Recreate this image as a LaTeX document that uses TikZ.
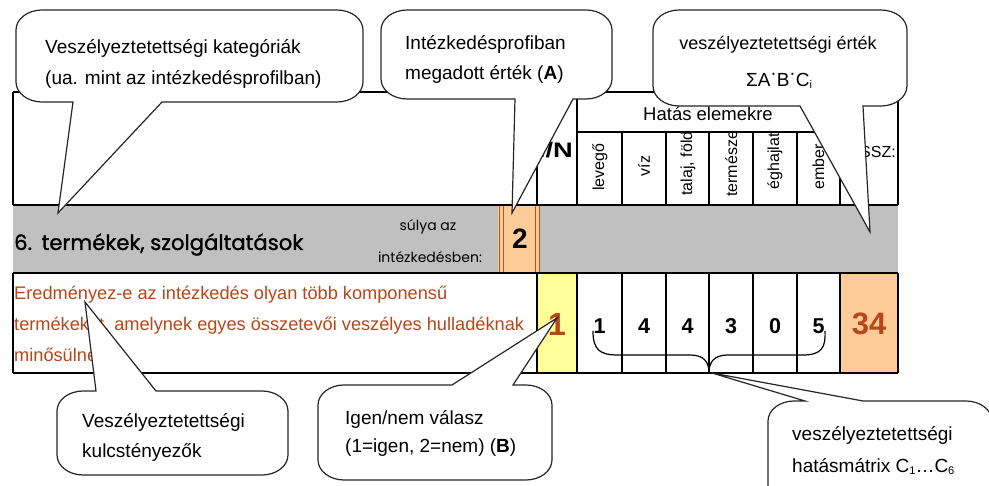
\documentclass[tikz,border=0pt]{standalone}
\usepackage{fontspec}
\setmainfont{Liberation Sans}
\newfontfamily\gothic{Poppins}[FakeBold=1.2]
\newfontfamily\gothiclight{Poppins}
\definecolor{grayrow}{RGB}{192,192,192}
\definecolor{orangecell}{RGB}{255,204,153}
\definecolor{yellowcell}{RGB}{255,255,153}
\definecolor{brownline}{RGB}{190,80,30}
\definecolor{redtext}{RGB}{185,70,25}
\newcommand{\fs}[1]{\fontsize{#1}{#1}\selectfont}
\newcommand{\crx}{26}
\newcommand{\cry}{20}
% tail at bottom: x1,y1,x2,y2,ax,bx,tipx,tipy
\newcommand{\calloutdown}[8]{%
  \draw[callout] (#7,#8) -- (#6,#4) -- (#3-\crx,#4)
    .. controls (#3-0.45*\crx,#4) and (#3,#4-0.45*\cry) .. (#3,#4-\cry)
    -- (#3,#2+\cry)
    .. controls (#3,#2+0.45*\cry) and (#3-0.45*\crx,#2) .. (#3-\crx,#2)
    -- (#1+\crx,#2)
    .. controls (#1+0.45*\crx,#2) and (#1,#2+0.45*\cry) .. (#1,#2+\cry)
    -- (#1,#4-\cry)
    .. controls (#1,#4-0.45*\cry) and (#1+0.45*\crx,#4) .. (#1+\crx,#4)
    -- (#5,#4) -- cycle;}
% tail at top
\newcommand{\calloutup}[8]{%
  \draw[callout] (#7,#8) -- (#6,#2) -- (#3-\crx,#2)
    .. controls (#3-0.45*\crx,#2) and (#3,#2+0.45*\cry) .. (#3,#2+\cry)
    -- (#3,#4-\cry)
    .. controls (#3,#4-0.45*\cry) and (#3-0.45*\crx,#4) .. (#3-\crx,#4)
    -- (#1+\crx,#4)
    .. controls (#1+0.45*\crx,#4) and (#1,#4-0.45*\cry) .. (#1,#4-\cry)
    -- (#1,#2+\cry)
    .. controls (#1,#2+0.45*\cry) and (#1+0.45*\crx,#2) .. (#1+\crx,#2)
    -- (#5,#2) -- cycle;}
\begin{document}
\begin{tikzpicture}[x=1pt,y=-1pt,
  tbl/.style={line width=1.2pt, black},
  callout/.style={draw=black!85, fill=white, line width=1.2pt},
  ctext/.style={inner sep=0pt, anchor=base west, font=\fs{19}},
  lbl/.style={inner sep=0pt, rotate=90, font=\fs{16}},
  num/.style={inner sep=0pt, anchor=base, font=\fs{21.5}\bfseries},
  red/.style={inner sep=0pt, anchor=base west, font=\fs{18.2}, text=redtext},
]
\useasboundingbox (0,0) rectangle (989,486);
\clip (0,0) rectangle (989,486);
\fill[white] (0,0) rectangle (989,486);

% fills
\fill[grayrow] (13,205) rectangle (898,273);
\fill[orangecell] (498,205) rectangle (539,273);
\fill[yellowcell] (537,273) rectangle (577,373);
\fill[orangecell] (840,273) rectangle (898,373);

% table lines
\foreach \x in {499,503,535,539} {\draw[brownline, line width=1pt] (\x,205) -- (\x,273);}
\draw[tbl] (13,92) -- (898,92);
\draw[tbl] (13,205) -- (898,205);
\draw[tbl] (13,273) -- (898,273);
\draw[tbl] (13,373) -- (898,373);
\draw[tbl] (13,92) -- (13,205);
\draw[tbl] (13,273) -- (13,373);
\draw[tbl] (898,92) -- (898,205);
\draw[tbl] (898,273) -- (898,373);
\draw[tbl] (577,132) -- (840,132);
\foreach \x in {537,577,840} {\draw[tbl] (\x,92) -- (\x,205); \draw[tbl] (\x,273) -- (\x,373);}
\foreach \x in {622,666,709,753,797} {\draw[tbl] (\x,132) -- (\x,205); \draw[tbl] (\x,273) -- (\x,373);}

% header texts
\node[inner sep=0pt, anchor=base, font=\fs{18.5}] (hatas) at (708,121) {Hatás elemekre};
\node[inner sep=0pt, anchor=base east, font=\fs{21}\bfseries] (in) at (573,158) {\scalebox{1.3}[1]{I/N}};
\node[inner sep=0pt, anchor=base east, font=\fs{16}] (ossz) at (896,158) {ÖSSZ:};
\node[lbl] (c1) at (600,167) {levegő};
\node[lbl] (c2) at (644,166) {víz};
\node[lbl] (c3) at (688,163.5) {talaj, föld};
\node[lbl, anchor=base west] (c4) at (737,197) {természe};
\node[lbl] (c5) at (775,161.5) {éghajlat};
\node[lbl, anchor=base west] (c6) at (824,190) {ember};

% gray row
\node[inner sep=0pt, anchor=base west, font=\gothic\fs{21.2}] (cat) at (14,250) {6.\hspace{0.45em}termékek, szolgáltatások};
\node[inner sep=0pt, anchor=base, font=\gothiclight\fs{14}] (s1) at (428,231) {súlya az};
\node[inner sep=0pt, anchor=base, font=\gothiclight\fs{14}] (s2) at (430,263) {intézkedésben:};
\node[inner sep=0pt, anchor=base, font=\fs{28}\bfseries] (w) at (520,249) {2};

% white row
\node[red] (q1) at (14,300) {Eredményez-e az intézkedés olyan több komponensű};
\node[red] (q2) at (14,331) {termékeket, amelynek egyes összetevői veszélyes hulladéknak};
\node[red] (q3) at (14,362) {minősülnek?};
\node[num, font=\fs{32}\bfseries, text=redtext] (b) at (557,336) {1};
\node[num] (n1) at (599.5,334) {1};
\node[num] (n2) at (644,334) {4};
\node[num] (n3) at (687.5,334) {4};
\node[num] (n4) at (731,334) {3};
\node[num] (n5) at (775,334) {0};
\node[num] (n6) at (818.5,334) {5};
\node[num, font=\fs{31}\bfseries, text=redtext] (sum) at (869,335) {34};

% brace
\draw[line width=1.2pt] (593,331) .. controls (593,350) and (600,355) .. (618,355)
  -- (690,355) .. controls (704,355) and (709,362) .. (709,373)
  .. controls (709,362) and (714,355) .. (728,355)
  -- (803,355) .. controls (821,355) and (826,348) .. (825,331);

% callouts
\calloutdown{16}{10}{363}{102}{73}{162}{58}{213}
\node[ctext] (t1a) at (45,54) {Veszélyeztetettségi kategóriák};
\node[ctext] (t1b) at (45,85) {(ua. mint az intézkedésprofilban)};

\calloutdown{381}{10}{612}{99}{515}{573}{512}{213}
\node[ctext] (t2a) at (405,50) {Intézkedésprofiban};
\node[ctext] (t2b) at (405,80) {megadott érték (\textbf{A})};

\calloutdown{653}{10}{907}{106}{800}{863}{870}{232}
\node[ctext, anchor=base, font=\fs{18}] (t3a) at (778,50) {veszélyeztetettségi érték};
\node[ctext, anchor=base, font=\fs{19}] (t3b) at (779,87) {ΣA\raisebox{0.4em}{·}B\raisebox{0.4em}{·}C\raisebox{-2pt}{\fs{11}i}};

\calloutup{57}{391}{288}{475}{96}{156}{85}{302}
\node[ctext] (t4a) at (82,428) {Veszélyeztetettségi};
\node[ctext] (t4b) at (82,458) {kulcstényezők};

\calloutup{318}{385}{552}{480}{452}{513}{557}{318}
\node[ctext] (t5a) at (345,425) {Igen/nem válasz};
\node[ctext] (t5b) at (345,453) {(1=igen, 2=nem) (\textbf{B})};

\calloutup{768}{401}{992}{505}{805}{863}{712}{373}
\node[ctext] (t6a) at (792,441) {veszélyeztetettségi};
\node[ctext] (t6b) at (792,472) {hatásmátrix C\raisebox{-2pt}{\fs{11}1}…C\raisebox{-2pt}{\fs{11}6}};
\end{tikzpicture}
\end{document}
